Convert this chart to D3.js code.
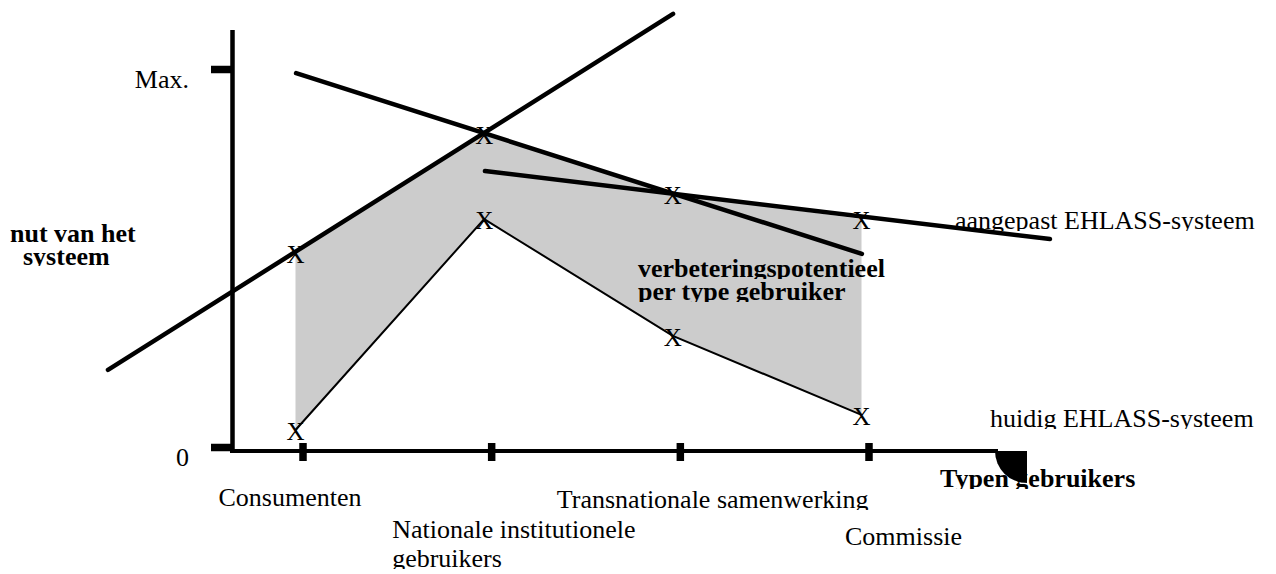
<!DOCTYPE html>
<html>
<head>
<meta charset="utf-8">
<script src="https://cdn.jsdelivr.net/npm/d3@7"></script>
<style>
  body { margin: 0; background: #fff; }
  svg { display: block; }
</style>
</head>
<body>
<svg id="chart" width="1276" height="574"></svg>
<script>
// ---------- data ----------
const categories = ["Consumenten", "Nationale institutionele\ngebruikers", "Transnationale samenwerking", "Commissie"];
const huidig = [4.5, 60.3, 29.4, 8.5];        // huidig EHLASS-systeem
const aangepast = [51.3, 82.8, 66.9, 60.3];   // aangepast EHLASS-systeem
const yTickValues = [0, 100];
const yTickLabels = ["0", "Max."];
// straight trend lines: [categoryIndex, value] endpoints
const trendA = [[-1.031, 20.4], [1.964, 114.6]];
const trendB = [[-0.034, 98.9], [2.965, 51.1]];
const trendC = [[0.967, 73.0], [3.962, 55.0]];

// ---------- layout ----------
const W = 1276, H = 574;
const FONT = "'Liberation Serif', 'Times New Roman', Times, serif";
const svg = d3.select("#chart");
const defs = svg.append("defs");

const x = d3.scaleLinear().domain([0, 3]).range([302.5, 868.5]);
const y = d3.scaleLinear().domain([0, 100]).range([447, 69]);
const markOffset = -7;
const mx = i => x(i) + markOffset;

// shaded improvement area
const area = d3.area()
  .x((d, i) => mx(i))
  .y0((d, i) => y(huidig[i]))
  .y1(d => y(d));
svg.append("path")
  .attr("d", area(aangepast))
  .attr("fill", "#cccccc");

// current system thin line
svg.append("path")
  .attr("d", d3.line().x((d, i) => mx(i)).y(d => y(d))(huidig))
  .attr("fill", "none")
  .attr("stroke", "#000")
  .attr("stroke-width", 2);

// X markers
function marks(series) {
  svg.append("g").selectAll("text").data(series).join("text")
    .attr("x", (d, i) => mx(i))
    .attr("y", d => y(d) + 10)
    .attr("text-anchor", "middle")
    .attr("font-family", FONT)
    .attr("font-size", 25)
    .attr("fill", "#000")
    .text("X");
}
marks(aangepast);
marks(huidig);

// thick trend lines
const seg = d3.line().x(d => x(d[0])).y(d => y(d[1]));
[trendA, trendB, trendC].forEach(t => {
  svg.append("path")
    .attr("d", seg(t))
    .attr("fill", "none")
    .attr("stroke", "#000")
    .attr("stroke-width", 4.5)
    .attr("stroke-linecap", "round");
});

// axis lines
svg.append("line").attr("x1", 232.5).attr("x2", 232.5).attr("y1", 30).attr("y2", 453)
  .attr("stroke", "#000").attr("stroke-width", 4.5);
svg.append("line").attr("x1", 230).attr("x2", 998).attr("y1", 451).attr("y2", 451)
  .attr("stroke", "#000").attr("stroke-width", 4);

// y axis ticks
const yAxis = svg.append("g").attr("transform", "translate(232,0)")
  .call(d3.axisLeft(y).tickValues(yTickValues).tickSize(21).tickPadding(22)
    .tickFormat((d, i) => yTickLabels[i]));
yAxis.select(".domain").remove();
yAxis.selectAll(".tick line").attr("stroke", "#000").attr("stroke-width", 7.5);
yAxis.selectAll(".tick text")
  .attr("dy", null).attr("y", 18.5)
  .attr("font-family", FONT).attr("font-size", 26).attr("fill", "#000");

// x axis ticks
const xAxis = svg.append("g").attr("transform", "translate(0,443)")
  .call(d3.axisBottom(x).tickValues(d3.range(categories.length)).tickSize(18).tickFormat(""));
xAxis.select(".domain").remove();
xAxis.selectAll(".tick line").attr("stroke", "#000").attr("stroke-width", 7.5);

// text helper with baseline clipping
let clipN = 0;
function label(px, py, s, opts = {}) {
  const { size = 26, weight = "normal", anchor = "start", clip = 2 } = opts;
  const id = "clip" + (clipN++);
  defs.append("clipPath").attr("id", id)
    .append("rect").attr("x", 0).attr("y", 0).attr("width", W).attr("height", py + clip);
  svg.append("text")
    .attr("x", px).attr("y", py)
    .attr("clip-path", `url(#${id})`)
    .attr("font-family", FONT)
    .attr("font-size", size)
    .attr("font-weight", weight)
    .attr("text-anchor", anchor)
    .attr("fill", "#000")
    .text(s);
}

// category labels
const catLayout = [
  { dx: -84, y: 506 },
  { dx: -99, y: 538 },
  { dx: -123, y: 508 },
  { dx: -23.5, y: 545 }
];
categories.forEach((c, i) => {
  c.split("\n").forEach((line, k) => {
    label(x(i) + catLayout[i].dx, catLayout[i].y + k * 29, line);
  });
});

// series labels
label(955, 229, "aangepast EHLASS-systeem");
label(990, 427, "huidig EHLASS-systeem");

// bold annotations
label(10, 242, "nut van het", { weight: "bold" });
label(23, 265, "systeem", { weight: "bold", clip: 1 });
label(638, 277, "verbeteringspotentieel", { weight: "bold" });
label(638, 300, "per type gebruiker", { weight: "bold" });
label(940, 487, "Typen gebruikers", { weight: "bold" });

// black wedge at end of x axis
svg.append("path")
  .attr("transform", "translate(1027,451)")
  .attr("d", d3.arc()({ innerRadius: 0, outerRadius: 32, startAngle: Math.PI, endAngle: 1.5 * Math.PI }))
  .attr("fill", "#000");
</script>
</body>
</html>
